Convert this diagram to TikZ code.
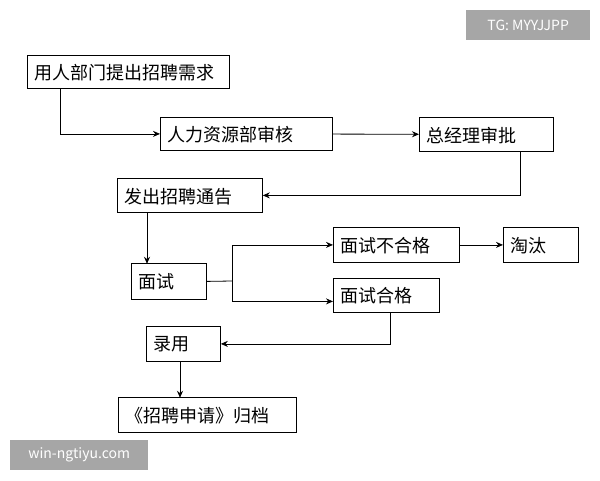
\documentclass[tikz,border=0pt]{standalone}
\usepackage{fontspec}
\setmainfont{Noto Sans CJK SC}
\usetikzlibrary{arrows.meta}
\begin{document}
\begin{tikzpicture}[x=1pt,y=-1pt,
  box/.style={draw=black,line width=0.8pt,fill=white,inner sep=0pt,font=\fontsize{18}{20}\selectfont,text depth=0pt},
  arr/.style={-{Stealth[length=7pt,width=6pt]},line width=0.8pt},
  wm/.style={fill=black!35,text=white,font=\fontsize{14}{16}\selectfont,inner sep=0pt}]
\useasboundingbox[fill=white] (0,0) rectangle (600,480);
\newcommand\bx[6]{\node[box,minimum width=#4-#2,minimum height=#5-#3,anchor=north west,text width=#4-#2-14,align=left] (#1) at (#2,#3) {#6};}
\bx{a}{27}{55}{229}{88}{用人部门提出招聘需求}
\bx{b}{160}{117}{332}{150}{人力资源部审核}
\bx{c}{419}{117}{553}{151}{总经理审批}
\bx{d}{117}{178}{262}{212}{发出招聘通告}
\bx{e}{131}{263}{206}{299}{面试}
\bx{f}{333}{227}{459}{262}{面试不合格}
\bx{g}{503}{227}{578}{262}{淘汰}
\bx{h}{333}{278}{439}{312}{面试合格}
\bx{i}{146}{326}{220}{361}{录用}
\bx{j}{118}{397}{296}{432}{《招聘申请》归档}
\coordinate (s) at (232,281);
\draw[arr] (a.south west)++(33,0) |- (b.west);
\draw[arr] (b) -- (c);
\draw[arr] (c.south east)++(-33,0) |- (d.east);
\draw[arr] (d.south west)++(30,0) -- ++(0,51);
\draw[line width=0.8pt] (e.east) -- (s);
\draw[arr] (s) |- (f.west);
\draw[arr] (s) |- ([yshift=-6]h.west);
\draw[arr] (f) -- (g);
\draw[arr] (h.south west)++(57,0) |- (i.east);
\draw[arr] (i.south west)++(34,0) -- ++(0,36);
\node[wm,minimum width=124,minimum height=30,anchor=north west] (w1) at (466,10) {TG: MYYJJPP};
\node[wm,minimum width=138,minimum height=30,anchor=north west] (w2) at (10,440) {win-ngtiyu.com};
\end{tikzpicture}
\end{document}
